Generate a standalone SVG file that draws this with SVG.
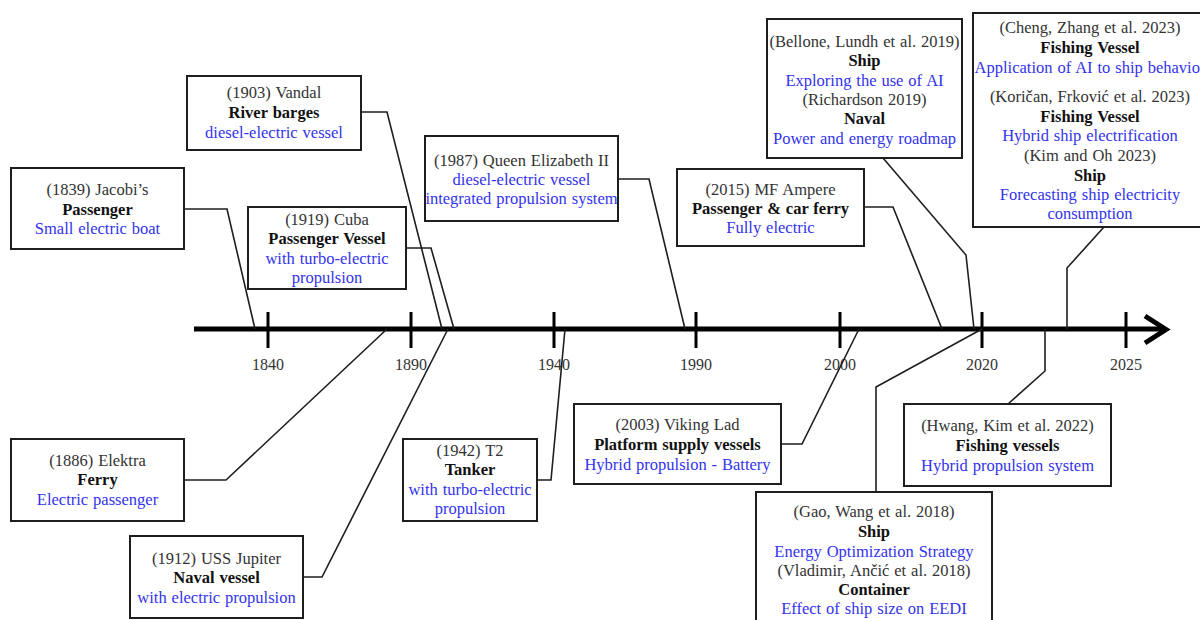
<svg xmlns="http://www.w3.org/2000/svg" width="1200" height="620" viewBox="0 0 1200 620">
  <style>
    .box { fill: #ffffff; stroke: #1e1e1e; stroke-width: 2; }
    .link { fill: none; stroke: #1e1e1e; stroke-width: 1.6; stroke-linejoin: miter; }
    text { font-family: "Liberation Serif", "Times New Roman", serif; font-size: 16.5px; word-spacing: 0.8px; text-anchor: middle; }
    .ref { fill: #333333; }
    .type { fill: #111111; font-weight: bold; }
    .note { fill: #3333ee; }
    .year { fill: #333333; font-size: 16px; word-spacing: 0; }
    .axis { stroke: #000000; stroke-width: 5; fill: none; }
    .tick { stroke: #000000; stroke-width: 3; }
  </style>

  <rect width="1200" height="620" fill="#ffffff"/>

  <!-- timeline axis -->
  <g id="axis">
    <line class="axis" x1="194" y1="329" x2="1163" y2="329"/>
    <polyline class="axis" points="1145,316 1166,329.5 1145,343" stroke-width="4"/>
    <line class="tick" x1="268" y1="312" x2="268" y2="348"/>
    <line class="tick" x1="411" y1="312" x2="411" y2="348"/>
    <line class="tick" x1="554" y1="312" x2="554" y2="348"/>
    <line class="tick" x1="696" y1="312" x2="696" y2="348"/>
    <line class="tick" x1="840" y1="312" x2="840" y2="348"/>
    <line class="tick" x1="982" y1="312" x2="982" y2="348"/>
    <line class="tick" x1="1126" y1="312" x2="1126" y2="348"/>
    <text class="year" x="268" y="370">1840</text>
    <text class="year" x="411" y="370">1890</text>
    <text class="year" x="554" y="370">1940</text>
    <text class="year" x="696" y="370">1990</text>
    <text class="year" x="840" y="370">2000</text>
    <text class="year" x="982" y="370">2020</text>
    <text class="year" x="1126" y="370">2025</text>
  </g>

  <!-- connectors from each box to its point on the axis -->
  <g id="connectors">
    <polyline class="link" points="184,209 227,209 255,329"/>
    <polyline class="link" points="361,112 387,112 442,329"/>
    <polyline class="link" points="406,248 431,248 454,329"/>
    <polyline class="link" points="618,179 649,179 685,329"/>
    <polyline class="link" points="864,207 893,207 942,329"/>
    <polyline class="link" points="883,158 966,255 974,329"/>
    <polyline class="link" points="1104,227 1067,268 1067,329"/>
    <polyline class="link" points="184,480 226,480 387,329"/>
    <polyline class="link" points="303,577 322,577 448,329"/>
    <polyline class="link" points="537,480 551,480 565,329"/>
    <polyline class="link" points="781,444 802,444 859,329"/>
    <polyline class="link" points="1008,404 1045,371 1045,329"/>
    <polyline class="link" points="876,492 876,387 982,329"/>
  </g>

  <!-- events above the axis -->
  <g id="jacobi">
    <rect class="box" x="11" y="168" width="173" height="81"/>
    <text class="ref" x="97.5" y="195">(1839) Jacobi’s</text>
    <text class="type" x="97.5" y="215">Passenger</text>
    <text class="note" x="97.5" y="234">Small electric boat</text>
  </g>

  <g id="vandal">
    <rect class="box" x="187" y="76" width="174" height="74"/>
    <text class="ref" x="274" y="98">(1903) Vandal</text>
    <text class="type" x="274" y="118">River barges</text>
    <text class="note" x="274" y="138">diesel-electric vessel</text>
  </g>

  <g id="cuba">
    <rect class="box" x="248" y="207" width="158" height="82"/>
    <text class="ref" x="327" y="225">(1919) Cuba</text>
    <text class="type" x="327" y="244">Passenger Vessel</text>
    <text class="note" x="327" y="264">with turbo-electric</text>
    <text class="note" x="327" y="283">propulsion</text>
  </g>

  <g id="queen-elizabeth">
    <rect class="box" x="425" y="136" width="193" height="85"/>
    <text class="ref" x="521.5" y="166">(1987) Queen Elizabeth II</text>
    <text class="note" x="521.5" y="185">diesel-electric vessel</text>
    <text class="note" x="521.5" y="204">integrated propulsion system</text>
  </g>

  <g id="mf-ampere">
    <rect class="box" x="677" y="169" width="187" height="77"/>
    <text class="ref" x="770.5" y="195">(2015) MF Ampere</text>
    <text class="type" x="770.5" y="214">Passenger &amp; car ferry</text>
    <text class="note" x="770.5" y="233">Fully electric</text>
  </g>

  <g id="bellone-richardson">
    <rect class="box" x="767" y="19" width="195" height="139"/>
    <text class="ref" x="864.5" y="47">(Bellone, Lundh et al. 2019)</text>
    <text class="type" x="864.5" y="66">Ship</text>
    <text class="note" x="864.5" y="86">Exploring the use of AI</text>
    <text class="ref" x="864.5" y="105">(Richardson 2019)</text>
    <text class="type" x="864.5" y="124">Naval</text>
    <text class="note" x="864.5" y="144">Power and energy roadmap</text>
  </g>

  <g id="cheng-korican-kim">
    <rect class="box" x="973" y="13" width="236" height="214"/>
    <text class="ref" x="1090" y="33">(Cheng, Zhang et al. 2023)</text>
    <text class="type" x="1090" y="53">Fishing Vessel</text>
    <text class="note" x="1090" y="73">Application of AI to ship behavior</text>
    <text class="ref" x="1090" y="102">(Koričan, Frković et al. 2023)</text>
    <text class="type" x="1090" y="122">Fishing Vessel</text>
    <text class="note" x="1090" y="141">Hybrid ship electrification</text>
    <text class="ref" x="1090" y="161">(Kim and Oh 2023)</text>
    <text class="type" x="1090" y="181">Ship</text>
    <text class="note" x="1090" y="200">Forecasting ship electricity</text>
    <text class="note" x="1090" y="219">consumption</text>
  </g>

  <!-- events below the axis -->
  <g id="elektra">
    <rect class="box" x="11" y="439" width="173" height="82"/>
    <text class="ref" x="97.5" y="466">(1886) Elektra</text>
    <text class="type" x="97.5" y="485">Ferry</text>
    <text class="note" x="97.5" y="505">Electric passenger</text>
  </g>

  <g id="uss-jupiter">
    <rect class="box" x="130" y="536" width="173" height="82"/>
    <text class="ref" x="216.5" y="564">(1912) USS Jupiter</text>
    <text class="type" x="216.5" y="583">Naval vessel</text>
    <text class="note" x="216.5" y="603">with electric propulsion</text>
  </g>

  <g id="t2">
    <rect class="box" x="403" y="439" width="134" height="82"/>
    <text class="ref" x="470" y="456">(1942) T2</text>
    <text class="type" x="470" y="475">Tanker</text>
    <text class="note" x="470" y="495">with turbo-electric</text>
    <text class="note" x="470" y="514">propulsion</text>
  </g>

  <g id="viking-lad">
    <rect class="box" x="574" y="404" width="207" height="80"/>
    <text class="ref" x="677.5" y="430">(2003) Viking Lad</text>
    <text class="type" x="677.5" y="450">Platform supply vessels</text>
    <text class="note" x="677.5" y="470">Hybrid propulsion - Battery</text>
  </g>

  <g id="hwang">
    <rect class="box" x="904" y="404" width="207" height="82"/>
    <text class="ref" x="1007.5" y="431">(Hwang, Kim et al. 2022)</text>
    <text class="type" x="1007.5" y="451">Fishing vessels</text>
    <text class="note" x="1007.5" y="471">Hybrid propulsion system</text>
  </g>

  <g id="gao-vladimir">
    <rect class="box" x="756" y="492" width="236" height="140"/>
    <text class="ref" x="874" y="517">(Gao, Wang et al. 2018)</text>
    <text class="type" x="874" y="537">Ship</text>
    <text class="note" x="874" y="557">Energy Optimization Strategy</text>
    <text class="ref" x="874" y="576">(Vladimir, Ančić et al. 2018)</text>
    <text class="type" x="874" y="595">Container</text>
    <text class="note" x="874" y="614">Effect of ship size on EEDI</text>
  </g>
</svg>
